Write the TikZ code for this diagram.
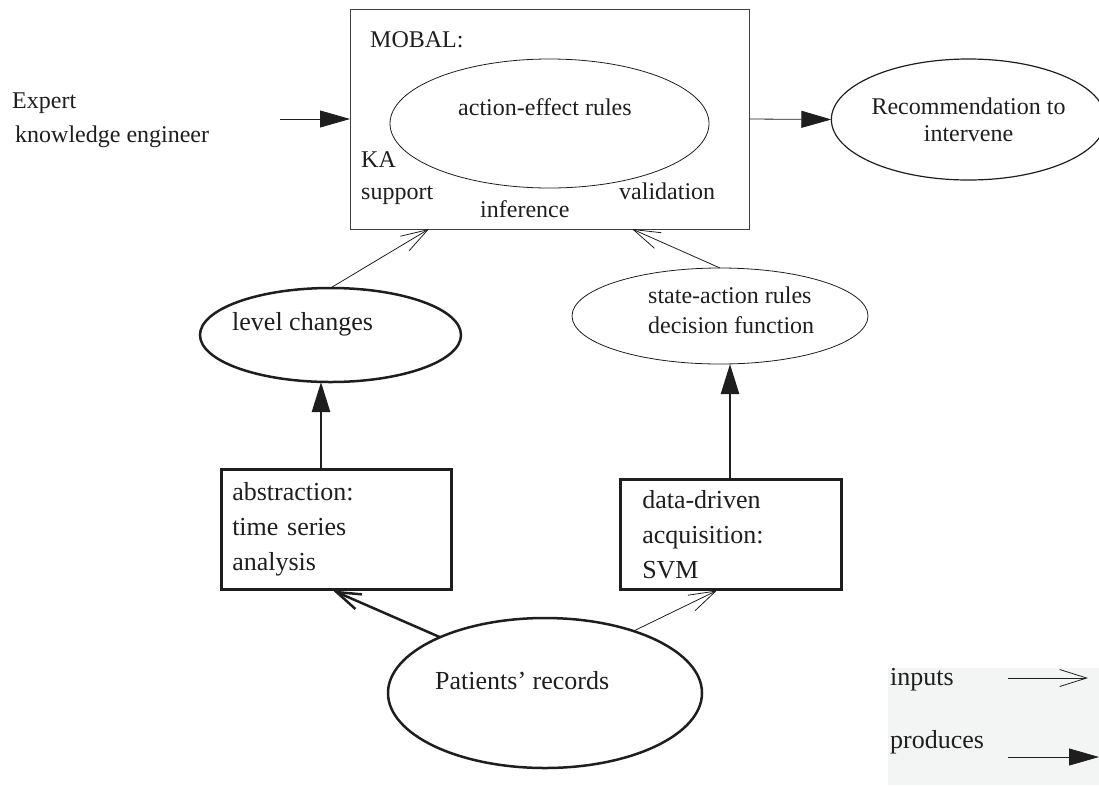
\documentclass[tikz,border=0pt]{standalone}
\usepackage{fontspec}
\setmainfont{Liberation Serif}
\usetikzlibrary{shapes.geometric,arrows.meta,calc}
\definecolor{legbg}{HTML}{F3F5F5}
\definecolor{ink}{HTML}{1E1E1E}
\begin{document}
\begin{tikzpicture}[x=1pt,y=-1pt,
  every node/.style={text=ink},
  fs/.style={font=\fontsize{24}{27}\selectfont},
  fl/.style={font=\fontsize{26}{35}\selectfont},
  lbl/.style={fs,anchor=base west,inner sep=0pt},
  lblL/.style={fl,anchor=base west,inner sep=0pt},
  thinln/.style={line width=0.8pt,draw=ink},
  thickln/.style={line width=2.5pt,draw=ink},
  oval/.style={draw=ink,ellipse,inner sep=0pt,outer sep=0pt},
  inarrow/.style={thinln,-{Straight Barb[length=27pt,width=17pt]}},
  inthick/.style={thickln,-{Straight Barb[length=24pt,width=16pt]}},
  prodarrow/.style={thinln,-{Triangle[length=30pt,width=17pt]}},
  prodthick/.style={thickln,-{Triangle[length=30pt,width=18pt]}},
  boxL/.style={draw=ink,line width=2.5pt,fl,align=left,inner ysep=0pt,anchor=north west}
]
\useasboundingbox (0,0) rectangle (1099,785);

% legend background
\fill[legbg] (888,668) rectangle (1099,785);

% MOBAL box
\node[draw=black!75,line width=1pt,minimum width=399pt,minimum height=220pt,inner sep=0pt,outer sep=0pt,anchor=north west] (mobal) at (350,9) {};
\node[oval,line width=0.8pt,minimum width=319pt,minimum height=129pt] (aer) at (549.5,123.5) {};
\node[lbl] (mobaltxt) at (370,47) {MOBAL:};
\node[lbl] (aertxt) at (458,115) {action-effect rules};
\node[lbl] (ka) at (361,167) {KA};
\node[lbl] (supp) at (361,199) {support};
\node[lbl] (infer) at (480,217) {inference};
\node[lbl] (valid) at (619,199) {validation};

% expert input
\node[lbl] (expert1) at (12,108) {Expert};
\node[lbl] (expert2) at (15,142) {knowledge engineer};
\coordinate (expin) at (280,119);
\draw[prodarrow] (expin) -- (mobal.west);

% recommendation
\node[oval,line width=1.2pt,minimum width=259pt,minimum height=121pt,fs,align=center] (rec) at (968.5,119.5) {Recommendation to\\intervene};
\draw[prodarrow] (mobal.east) -- (rec.west);

% level changes
\node[oval,line width=2.5pt,minimum width=261pt,minimum height=94pt] (level) at (330.5,335) {};
\node[lblL] (leveltxt) at (232,330) {level changes};
\draw[inarrow] (level.north) -- ($(mobal.south west)+(79,0)$);

% state-action rules
\node[oval,line width=0.8pt,minimum width=296pt,minimum height=96pt] (state) at (720,316) {};
\node[lbl] (statetxt1) at (648,303) {state-action rules};
\node[lbl] (statetxt2) at (648,333) {decision function};
\draw[inarrow] (state.north) -- ($(mobal.south west)+(282,0)$);

% abstraction box
\node[boxL,text width=208pt,inner xsep=11pt,minimum height=120pt] (abs) at (220,468) {abstraction:\\time series\\analysis};
\coordinate (absTop) at ($(abs.north west)+(101,0)$);
\draw[prodthick] (absTop) -- (absTop |- level.south);

% data-driven box
\node[boxL,text width=177pt,inner xsep=22pt,minimum height=110pt] (dd) at (619,478) {data-driven\\acquisition:\\SVM};
\coordinate (ddTop) at ($(dd.north west)+(111,0)$);
\draw[prodthick] (ddTop) -- (ddTop |- state.south);

% patients' records
\node[oval,line width=2.5pt,minimum width=314pt,minimum height=150pt] (pat) at (545,693) {};
\node[lblL] (pattxt) at (435,689) {Patients’ records};
\draw[inthick] (pat.152) -- ($(abs.south west)+(113,0)$);
\draw[inarrow] (pat.35) -- ($(dd.south west)+(98,0)$);

% legend
\node[lblL] (leginputs) at (890,685) {inputs};
\node[lblL] (legprod) at (890,748) {produces};
\coordinate (li1) at (1008,678);
\coordinate (li2) at (1088,678);
\coordinate (lp1) at (1008,757);
\coordinate (lp2) at (1099,757);
\draw[inarrow] (li1) -- (li2);
\draw[prodarrow] (lp1) -- (lp2);
\end{tikzpicture}
\end{document}
